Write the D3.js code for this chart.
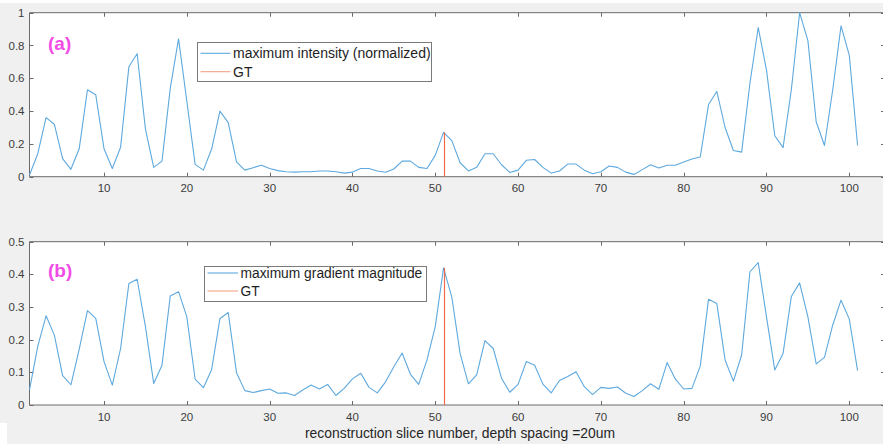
<!DOCTYPE html>
<html><head><meta charset="utf-8">
<script src="https://cdn.jsdelivr.net/npm/d3@7"></script>
<style>html,body{margin:0;padding:0;background:#f0f0f0;overflow:hidden}svg{display:block}</style>
</head><body>
<script>
const slices = d3.range(1, 102);
const intensity = [0.01,0.14,0.36,0.32,0.11,0.045,0.17,0.53,0.50,0.17,
 0.05,0.18,0.67,0.75,0.29,0.057,0.095,0.54,0.84,0.46,
 0.075,0.04,0.17,0.40,0.33,0.09,0.04,0.055,0.07,0.05,
 0.037,0.03,0.028,0.03,0.03,0.035,0.035,0.03,0.022,0.028,
 0.05,0.05,0.035,0.027,0.047,0.095,0.095,0.057,0.05,0.13,
 0.27,0.22,0.085,0.035,0.057,0.14,0.14,0.073,0.026,0.04,
 0.10,0.105,0.057,0.022,0.035,0.077,0.077,0.04,0.018,0.03,
 0.065,0.057,0.028,0.014,0.043,0.073,0.053,0.07,0.07,0.09,
 0.108,0.12,0.44,0.52,0.30,0.16,0.15,0.57,0.91,0.65,
 0.25,0.177,0.53,1.0,0.83,0.335,0.19,0.53,0.92,0.74,0.19];
const gradient = [0.046,0.18,0.273,0.214,0.09,0.062,0.17,0.289,0.265,0.133,
 0.061,0.173,0.372,0.385,0.24,0.066,0.122,0.334,0.347,0.27,
 0.079,0.053,0.109,0.265,0.283,0.099,0.044,0.038,0.044,0.049,
 0.036,0.037,0.029,0.046,0.061,0.049,0.063,0.029,0.051,0.08,
 0.097,0.054,0.037,0.071,0.117,0.159,0.094,0.063,0.138,0.24,
 0.42,0.33,0.158,0.065,0.092,0.197,0.173,0.082,0.039,0.063,
 0.133,0.122,0.064,0.037,0.075,0.087,0.102,0.056,0.032,0.054,
 0.051,0.055,0.036,0.026,0.044,0.065,0.048,0.13,0.079,0.049,
 0.051,0.119,0.324,0.311,0.138,0.073,0.153,0.408,0.436,0.27,
 0.107,0.158,0.332,0.374,0.27,0.126,0.146,0.245,0.321,0.263,0.105];
const gtSlice = 51;
const xTicks = [10,20,30,40,50,60,70,80,90,100];
const yTicksA = [0,0.2,0.4,0.6,0.8,1];
const yTicksB = [0,0.1,0.2,0.3,0.4,0.5];
const yTickLabelsA = ["0","0.2","0.4","0.6","0.8","1"];
const yTickLabelsB = ["0","0.1","0.2","0.3","0.4","0.5"];
const panelLabels = ["(a)","(b)"];
const legendLabels = ["maximum intensity (normalized)","maximum gradient magnitude"];
const xLabel = "reconstruction slice number, depth spacing =20um";

const W = 883, H = 444;
const svg = d3.select("body").append("svg").attr("width", W).attr("height", H);
svg.append("rect").attr("width", W).attr("height", H).attr("fill", "#f0f0f0");
svg.append("rect").attr("x",0).attr("y",0).attr("width",W).attr("height",3).attr("fill","#ffffff");
svg.append("rect").attr("x",0).attr("y",423).attr("width",7).attr("height",21).attr("fill","#ffffff");

const FONT = "'Liberation Sans', Arial, Helvetica, sans-serif";
const x = d3.scaleLinear().domain([1, 100]).range([29.5, 849.3]);
const xRight = 885;
const lineColor = "#5ea9de", gtColor = "#ec6a45", gtLegendColor = "#f2a083", axisColor = "#6b6b6b", textColor = "#3c3c3c";

function panel(opts) {
  const {top, bottom, yMax, yTicks, yLabels, values, label, legendText, legend} = opts;
  const y = d3.scaleLinear().domain([0, yMax]).range([bottom, top]);
  const g = svg.append("g");
  g.append("rect").attr("x", x.range()[0]).attr("y", top)
    .attr("width", xRight - x.range()[0]).attr("height", bottom - top).attr("fill", "#fff");
  g.append("path").attr("fill","none").attr("stroke",axisColor).attr("stroke-width",1)
    .attr("d", `M${xRight},${top}H${x.range()[0]}V${bottom}H${xRight}`);
  const tl = 4;
  xTicks.forEach(t => {
    const px = Math.round(x(t)) + 0.5;
    g.append("line").attr("x1",px).attr("x2",px).attr("y1",bottom).attr("y2",bottom-tl).attr("stroke",axisColor);
    g.append("line").attr("x1",px).attr("x2",px).attr("y1",top).attr("y2",top+tl).attr("stroke",axisColor);
    g.append("text").attr("x", x(t)).attr("y", bottom + 15.5).attr("text-anchor","middle")
      .attr("font-family",FONT).attr("font-size",11.5).attr("fill",textColor).text(t);
  });
  yTicks.forEach((t,i) => {
    const py = Math.round(y(t)) + 0.5;
    g.append("line").attr("x1",x.range()[0]).attr("x2",x.range()[0]+tl).attr("y1",py).attr("y2",py).attr("stroke",axisColor);
    g.append("line").attr("x1",xRight-4).attr("x2",xRight).attr("y1",py).attr("y2",py).attr("stroke",axisColor);
    g.append("text").attr("x", 24.5).attr("y", y(t) + 4).attr("text-anchor","end")
      .attr("font-family",FONT).attr("font-size",11.5).attr("fill",textColor).text(yLabels[i]);
  });
  const line = d3.line().x((d,i) => x(slices[i])).y(d => y(d));
  g.append("path").datum(values).attr("fill","none").attr("stroke",lineColor)
    .attr("stroke-width",1.1).attr("stroke-linejoin","round").attr("d", line);
  const gv = values[slices.indexOf(gtSlice)];
  const gx = Math.round(x(gtSlice)) + 0.5;
  g.append("line").attr("x1",gx).attr("x2",gx).attr("y1",y(0)).attr("y2",y(gv))
    .attr("stroke",gtColor).attr("stroke-width",1.2);
  g.append("text").attr("x", 48).attr("y", opts.labelY).attr("font-family",FONT)
    .attr("font-size",19).attr("font-weight","bold").attr("fill","#f24ce6").text(label);
  const L = legend;
  g.append("rect").attr("x",L.x+0.5).attr("y",L.y+0.5).attr("width",L.w).attr("height",L.h)
    .attr("fill","#fff").attr("stroke","#7a7a7a").attr("stroke-width",1);
  [[legendText, lineColor, L.r1],["GT", gtLegendColor, L.r2]].forEach(([txt,col,ry]) => {
    g.append("line").attr("x1",L.x+3.5).attr("x2",L.lx2).attr("y1",ry).attr("y2",ry).attr("stroke",col).attr("stroke-width",1.1);
    g.append("text").attr("x",L.lx2+2.5).attr("y",ry+5).attr("font-family",FONT).attr("font-size",L.fs)
      .attr("fill","#1e1e1e").text(txt);
  });
}

panel({top:12.7, bottom:176.7, yMax:1, yTicks:yTicksA, yLabels:yTickLabelsA, values:intensity,
  label:panelLabels[0], labelY:49.5, legendText:legendLabels[0],
  legend:{x:197, y:42, w:234, h:39, lx2:230.5, r1:53.3, r2:71.7, fs:14}});
panel({top:241.7, bottom:405, yMax:0.5, yTicks:yTicksB, yLabels:yTickLabelsB, values:gradient,
  label:panelLabels[1], labelY:276.5, legendText:legendLabels[1],
  legend:{x:204, y:266, w:222, h:35, lx2:238, r1:273, r2:291, fs:13.8}});

svg.append("text").attr("x", 460).attr("y", 438).attr("text-anchor","middle")
  .attr("font-family",FONT).attr("font-size",13.9).attr("fill","#262626").text(xLabel);
</script>
</body></html>
